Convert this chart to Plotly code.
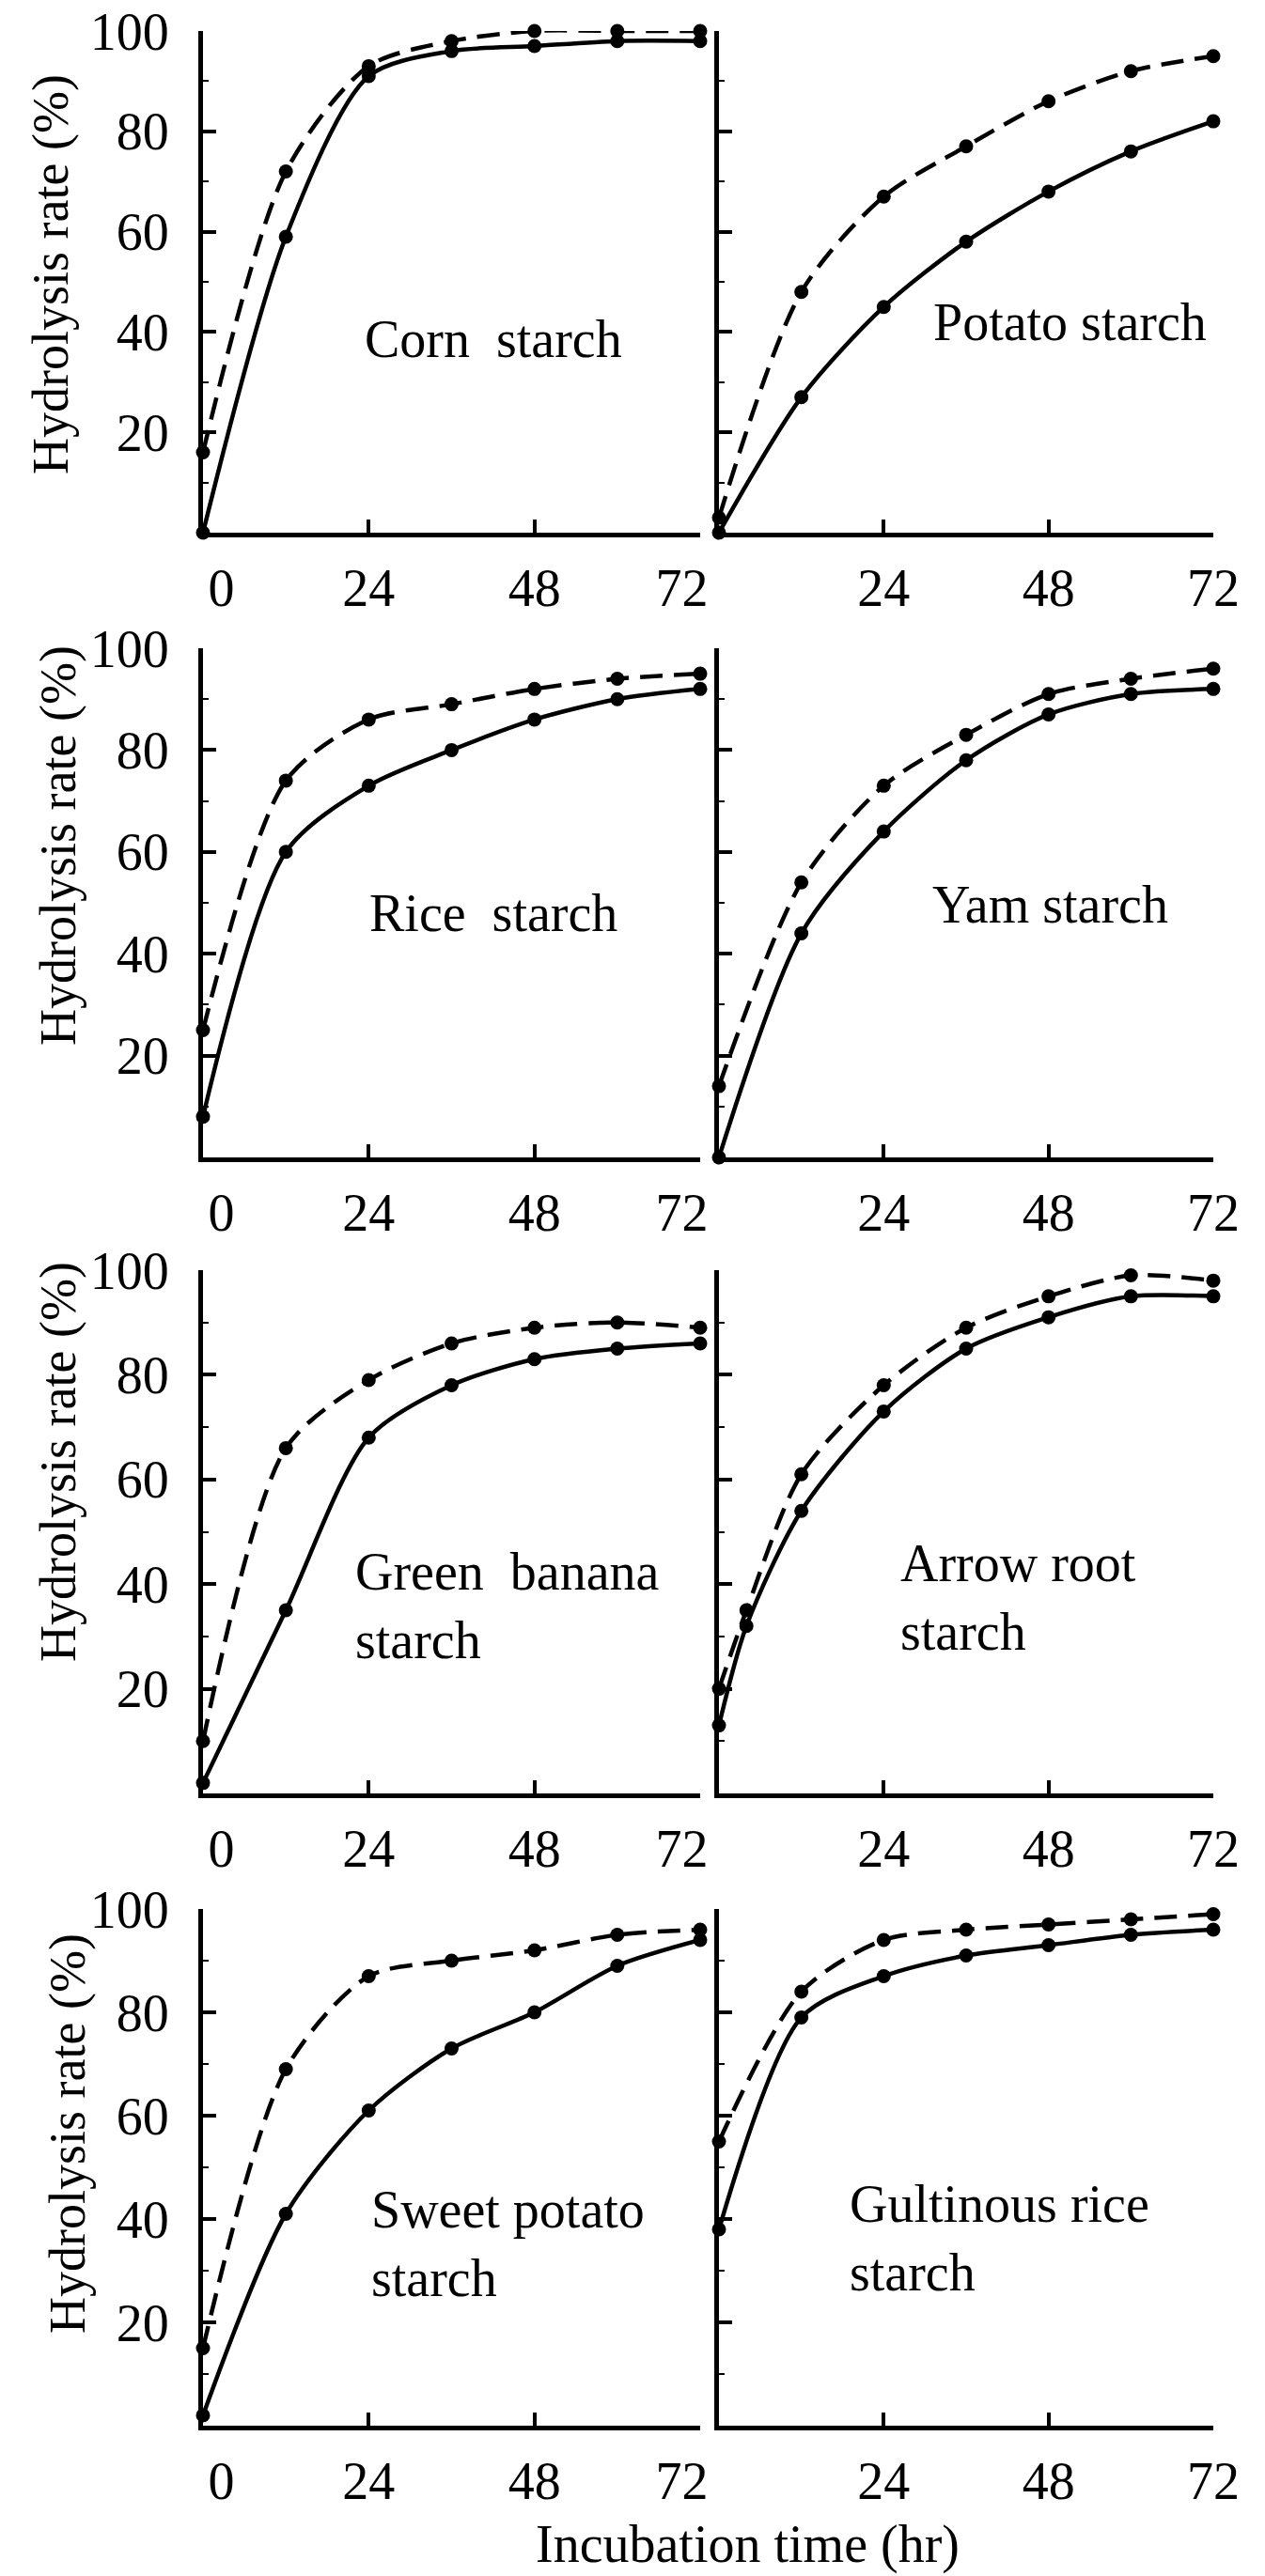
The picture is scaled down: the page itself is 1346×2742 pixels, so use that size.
import plotly.graph_objects as go

# ---------------- data ----------------
hours = [0, 12, 24, 36, 48, 60, 72]
hours_arrow = [0, 4, 12, 24, 36, 48, 60, 72]

corn_solid = [0, 59, 91, 96, 97, 98, 98]
corn_dashed = [16, 72, 93, 98, 100, 100, 100]

potato_solid = [0, 27, 45, 58, 68, 76, 82]
potato_dashed = [3, 48, 67, 77, 86, 92, 95]

rice_solid = [8, 60, 73, 80, 86, 90, 92]
rice_dashed = [25, 74, 86, 89, 92, 94, 95]

yam_solid = [0, 44, 64, 78, 87, 91, 92]
yam_dashed = [14, 54, 73, 83, 91, 94, 96]

banana_solid = [2, 35, 68, 78, 83, 85, 86]
banana_dashed = [10, 66, 79, 86, 89, 90, 89]

arrow_solid = [13, 32, 54, 73, 85, 91, 95, 95]
arrow_dashed = [20, 35, 61, 78, 89, 95, 99, 98]

sweet_solid = [2, 41, 61, 73, 80, 89, 94]
sweet_dashed = [15, 69, 87, 90, 92, 95, 96]

glut_solid = [38, 79, 87, 91, 93, 95, 96]
glut_dashed = [55, 84, 94, 96, 97, 98, 99]

panel_names = ["Corn\u00a0\u00a0starch", "Potato starch", "Rice\u00a0\u00a0starch", "Yam starch",
               "Green\u00a0\u00a0banana<br>starch", "Arrow root<br>starch",
               "Sweet potato<br>starch", "Gultinous rice<br>starch"]

x_ticks_left = [0, 24, 48, 72]
x_labels_left = ["\u2002\u20090", "24", "48", "72\u2002\u2009"]
x_ticks_right = [24, 48, 72]
x_labels_right = ["24", "48", "72"]
y_ticks = [20, 40, 60, 80, 100]
y_title = "Hydrolysis rate (%)"
x_title = "Incubation time (hr)"

panels = [
    (hours, corn_solid, corn_dashed),
    (hours, potato_solid, potato_dashed),
    (hours, rice_solid, rice_dashed),
    (hours, yam_solid, yam_dashed),
    (hours, banana_solid, banana_dashed),
    (hours_arrow, arrow_solid, arrow_dashed),
    (hours, sweet_solid, sweet_dashed),
    (hours, glut_solid, glut_dashed),
]

# ---------------- layout geometry (pixels) ----------------
W, H = 1346, 2742
col_px = [(216, 745), (765, 1291)]
row_px = [(33, 567), (690, 1232), (1352, 1909), (2032, 2582)]

FONT = "Liberation Serif, 'Times New Roman', serif"
TICK_SIZE = 56
fig = go.Figure()

layout = dict(
    width=W, height=H, margin=dict(l=0, r=0, t=0, b=0, autoexpand=False),
    paper_bgcolor="white", plot_bgcolor="white", showlegend=False,
    font=dict(family=FONT, size=TICK_SIZE, color="black"),
)

annotations = []
for i, (xs, solid, dashed) in enumerate(panels):
    r, c = divmod(i, 2)
    n = i + 1
    xa = "x" if n == 1 else f"x{n}"
    ya = "y" if n == 1 else f"y{n}"
    for vals, dash in ((solid, "solid"), (dashed, "24px,12px")):
        fig.add_trace(go.Scatter(
            x=xs, y=vals, xaxis=xa, yaxis=ya, mode="lines+markers",
            line=dict(color="black", width=4.5, dash=dash, shape="spline", smoothing=0.8),
            marker=dict(color="black", size=15),
            cliponaxis=False, hoverinfo="skip",
        ))
    x0, x1 = col_px[c]
    y0, y1 = row_px[r]
    xkey = "xaxis" if n == 1 else f"xaxis{n}"
    ykey = "yaxis" if n == 1 else f"yaxis{n}"
    xt = x_ticks_left if c == 0 else x_ticks_right
    xl = x_labels_left if c == 0 else x_labels_right
    layout[xkey] = dict(
        domain=[x0 / W, x1 / W], anchor=ya, range=[0, 72],
        tickmode="array", tickvals=xt, ticktext=xl,
        ticks="inside", ticklen=14, tickwidth=4, tickcolor="black",
        showline=True, linewidth=5, linecolor="black",
        showgrid=False, zeroline=False, ticklabelstandoff=6,
        automargin=False, ticklabeloverflow="allow",
        tickfont=dict(family=FONT, size=TICK_SIZE, color="black"),
    )
    layout[ykey] = dict(
        domain=[1 - y1 / H, 1 - y0 / H], anchor=xa, range=[0, 100],
        tickmode="array", tickvals=y_ticks, ticktext=[str(v) for v in y_ticks],
        showticklabels=(c == 0),
        ticks="inside", ticklen=14, tickwidth=4, tickcolor="black",
        minor=dict(tickvals=[10, 30, 50, 70, 90], ticks="inside", ticklen=6,
                   tickwidth=2, tickcolor="black"),
        showline=True, linewidth=5, linecolor="black",
        showgrid=False, zeroline=False, ticklabelstandoff=20,
        automargin=False, ticklabeloverflow="allow",
        tickfont=dict(family=FONT, size=TICK_SIZE, color="black"),
    )

# panel labels (pixel positions)
label_pos = [
    (525, 361, "center"), (1138, 343, "center"),
    (525, 972, "center"), (1117, 963, "center"),
    (376, 1709, "left"), (956, 1700, "left"),
    (393, 2388, "left"), (902, 2382, "left"),
]
for name, (px, py, anc) in zip(panel_names, label_pos):
    annotations.append(dict(
        text=name, x=px / W, y=1 - py / H, xref="paper", yref="paper",
        xanchor=anc, yanchor="middle", align="left", showarrow=False,
        font=dict(family=FONT, size=56, color="black"),
    ))

# y-axis titles
ytitle_pos = [(54, 292), (62, 900), (62, 1556), (72, 2271)]
for px, py in ytitle_pos:
    annotations.append(dict(
        text=y_title, x=px / W, y=1 - py / H, xref="paper", yref="paper",
        xanchor="center", yanchor="middle", textangle=-90, showarrow=False,
        font=dict(family=FONT, size=54, color="black"),
    ))

# x-axis title
annotations.append(dict(
    text=x_title, x=795 / W, y=1 - 2708 / H, xref="paper", yref="paper",
    xanchor="center", yanchor="middle", showarrow=False,
    font=dict(family=FONT, size=56, color="black"),
))

layout["annotations"] = annotations
fig.update_layout(**layout)
fig.write_html("out.html")
